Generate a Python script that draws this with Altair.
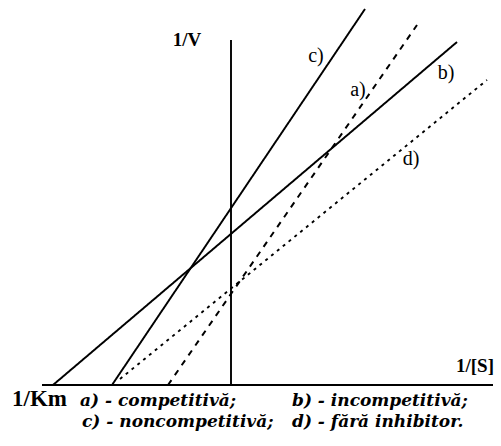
import altair as alt
import pandas as pd

# Lineweaver-Burk lines: two read points per inhibition type (1/[S], 1/V), arbitrary units
series = ["a", "b", "c", "d"]
x_start = [-6.3, -17.8, -11.9, -11.1]
y_start = [0.0, 0.0, 0.0, 0.6]
x_end = [18.6, 22.6, 13.4, 25.6]
y_end = [36.0, 34.3, 37.6, 30.5]

rows = []
for s, x0, y0, x1, y1 in zip(series, x_start, y_start, x_end, y_end):
    rows.append({"series": s, "x": x0, "y": y0, "order": 0})
    rows.append({"series": s, "x": x1, "y": y1, "order": 1})
lines_df = pd.DataFrame(rows)

X_DOMAIN = [-23.1, 27.0]
Y_DOMAIN = [-6.1, 38.5]
xs = alt.Scale(domain=X_DOMAIN, nice=False, zero=False)
ys = alt.Scale(domain=Y_DOMAIN, nice=False, zero=False)
FONT = "Liberation Serif"
KEY_FONT = "DejaVu Serif"

lines = alt.Chart(lines_df).mark_line(color="black", clip=False).encode(
    x=alt.X("x:Q", scale=xs, axis=None),
    y=alt.Y("y:Q", scale=ys, axis=None),
    order="order:Q",
    strokeDash=alt.StrokeDash(
        "series:N",
        scale=alt.Scale(domain=series, range=[[6, 6], [1, 0], [1, 0], [3, 4.5]]),
        legend=None,
    ),
    strokeWidth=alt.StrokeWidth(
        "series:N",
        scale=alt.Scale(domain=series, range=[2, 1.9, 1.9, 3]),
        legend=None,
    ),
    detail="series:N",
)

# Coordinate axes through the origin
axes_df = pd.DataFrame({"x": [-18.9, 0.0], "x2": [26.2, 0.0], "y": [0.0, 0.0], "y2": [0.0, 34.5]})
axes = alt.Chart(axes_df).mark_rule(color="black", strokeWidth=1.9).encode(
    x=alt.X("x:Q", scale=xs, axis=None),
    x2="x2:Q",
    y=alt.Y("y:Q", scale=ys, axis=None),
    y2="y2:Q",
)

# Line tags next to each line
tags_df = pd.DataFrame({
    "label": ["c)", "a)", "b)", "d)"],
    "x": [8.5, 12.7, 21.5, 18.0],
    "y": [32.9, 29.5, 31.2, 22.6],
})
tags = alt.Chart(tags_df).mark_text(font=FONT, fontSize=20, color="black").encode(
    x=alt.X("x:Q", scale=xs, axis=None),
    y=alt.Y("y:Q", scale=ys, axis=None),
    text="label:N",
)

# Axis titles
titles_df = pd.DataFrame({
    "label": ["1/V", "1/[S]"],
    "x": [-4.4, 24.4],
    "y": [34.5, 1.9],
})
titles = alt.Chart(titles_df).mark_text(font=FONT, fontSize=19, fontWeight="bold", color="black").encode(
    x=alt.X("x:Q", scale=xs, axis=None),
    y=alt.Y("y:Q", scale=ys, axis=None),
    text="label:N",
)

km_df = pd.DataFrame({"label": ["1/Km"], "x": [-21.9], "y": [-2.1]})
km = alt.Chart(km_df).mark_text(
    font=FONT, fontSize=23, fontWeight="bold", color="black", align="left", baseline="alphabetic"
).encode(
    x=alt.X("x:Q", scale=xs, axis=None),
    y=alt.Y("y:Q", scale=ys, axis=None),
    text="label:N",
)

# Key to the inhibition types
key_labels = ["a) - competitivă;", "b) - incompetitivă;", "c) - noncompetitivă;", "d) - fără inhibitor."]
key_df = pd.DataFrame({
    "label": key_labels,
    "x": [-15.1, 6.1, -14.9, 6.1],
    "y": [-2.1, -2.1, -4.2, -4.2],
})
key = alt.Chart(key_df).mark_text(
    font=KEY_FONT, fontSize=17, fontWeight="bold", fontStyle="italic", color="black",
    align="left", baseline="alphabetic",
).encode(
    x=alt.X("x:Q", scale=xs, axis=None),
    y=alt.Y("y:Q", scale=ys, axis=None),
    text="label:N",
)

chart = alt.layer(axes, lines, tags, titles, km, key).properties(
    width=501, height=446, padding=0, autosize=alt.AutoSizeParams(type="none"),
    background="white",
).configure_view(stroke=None)

chart.save("out.html", embed_options={"renderer": "svg", "actions": False})
